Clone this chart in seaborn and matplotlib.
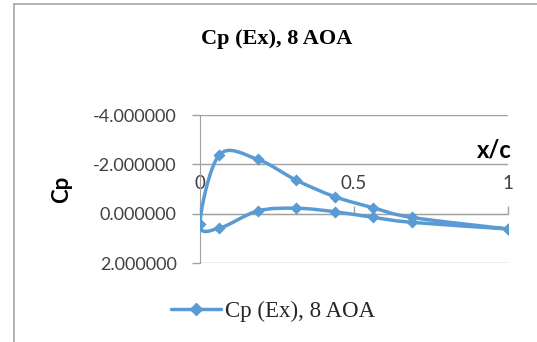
import numpy as np
import matplotlib
matplotlib.use("Agg")
import matplotlib.pyplot as plt
import seaborn as sns
from matplotlib.path import Path
from matplotlib.patches import PathPatch
from matplotlib.lines import Line2D

# Messpunkte: Hinterkante -> Oberseite -> Nase -> Unterseite -> Hinterkante
x_c = [1.0, 0.6875, 0.5625, 0.4375, 0.3125, 0.1875, 0.0625, 0.0,
       0.0625, 0.1875, 0.3125, 0.4375, 0.5625, 0.6875, 1.0]
cp = [0.62, 0.15, -0.24, -0.69, -1.36, -2.20, -2.38, 0.42,
      0.59, -0.11, -0.22, -0.08, 0.15, 0.35, 0.62]

y_ticks = [-4, -2, 0, 2]
y_labels = ["-4.000000", "-2.000000", "0.000000", "2.000000"]
x_ticks = [0, 0.5, 1]
x_labels = ["0", "0.5", "1"]
series_name = "Cp (Ex), 8 AOA"

blue = "#5b9bd5"
grid_grey = "#a0a0a0"
text_grey = "#404040"

sns.set_style("white")
plt.rcParams["font.family"] = ["Lato", "DejaVu Sans"]

fig = plt.figure(figsize=(5.37, 3.42), dpi=100)
ax = fig.add_axes([200 / 537, 1 - 263 / 342, 307.7 / 537, 148 / 342])

# geglaettete Linie (Bezier wie in Excel) durch die Messpunkte
pts = np.column_stack([x_c, cp])
n = len(pts)
verts = [pts[0]]
codes = [Path.MOVETO]
for i in range(n - 1):
    p0 = pts[max(i - 1, 0)]
    p1 = pts[i]
    p2 = pts[i + 1]
    p3 = pts[min(i + 2, n - 1)]
    verts += [p1 + (p2 - p0) / 6, p2 - (p3 - p1) / 6, p2]
    codes += [Path.CURVE4] * 3
ax.add_patch(PathPatch(Path(verts, codes), fill=False, edgecolor=blue,
                       lw=2.5, capstyle="round", joinstyle="round", zorder=3))

sns.scatterplot(x=x_c, y=cp, marker="D", s=38, color=blue, edgecolor=blue,
                linewidth=0, zorder=4, ax=ax, legend=False)

ax.set_xlim(0, 1)
ax.set_ylim(2, -4)
ax.set_yticks(y_ticks)
ax.set_yticklabels(y_labels)
ax.set_xticks(x_ticks)
ax.set_xticklabels(x_labels)

ax.yaxis.grid(True, color=grid_grey, lw=1.0)
ax.xaxis.grid(False)
ax.set_axisbelow(True)

for s in ["bottom", "right"]:
    ax.spines[s].set_visible(False)
ax.spines["left"].set_color(grid_grey)
ax.spines["top"].set_color(grid_grey)
ax.spines["top"].set_position(("data", 0))

ax.xaxis.tick_top()
ax.tick_params(axis="x", direction="out", length=5.8, width=1.0, color=grid_grey,
               pad=10, labelsize=13.5, labelcolor=text_grey)
ax.tick_params(axis="y", direction="out", length=5.8, width=1.0, color=grid_grey,
               pad=11, labelsize=13, labelcolor=text_grey, left=True)

ax.set_xlabel("")
ax.set_ylabel("")
fig.text(494 / 537, 1 - 150 / 342, "x/c", fontsize=17, fontweight="bold",
         ha="center", va="center", color="black")
fig.text(62 / 537, 1 - 189 / 342, "Cp", fontsize=16, fontweight="bold",
         ha="center", va="center", rotation=90, color="black")

fig.text(276.7 / 537, 1 - 39 / 342, series_name, fontsize=16, fontweight="bold",
         family="Liberation Serif", ha="center", va="center", color="black")

handle = Line2D([], [], color=blue, lw=2.5, marker="D", markersize=6.2)
fig.legend([handle], [series_name], loc="center",
           bbox_to_anchor=(273 / 537, 1 - 311 / 342), frameon=False,
           prop={"family": "Liberation Serif", "size": 16.5},
           handlelength=2.2, handletextpad=0.15)

# Rahmen des Diagrammbereichs
fig.add_artist(Line2D([13.5 / 537, 13.5 / 537], [0, 1 - 3.5 / 342],
                      transform=fig.transFigure, color="#a6a6a6", lw=1.2))
fig.add_artist(Line2D([13.5 / 537, 1], [1 - 3.5 / 342, 1 - 3.5 / 342],
                      transform=fig.transFigure, color="#a6a6a6", lw=1.2))

fig.savefig("out.png", dpi=100)
